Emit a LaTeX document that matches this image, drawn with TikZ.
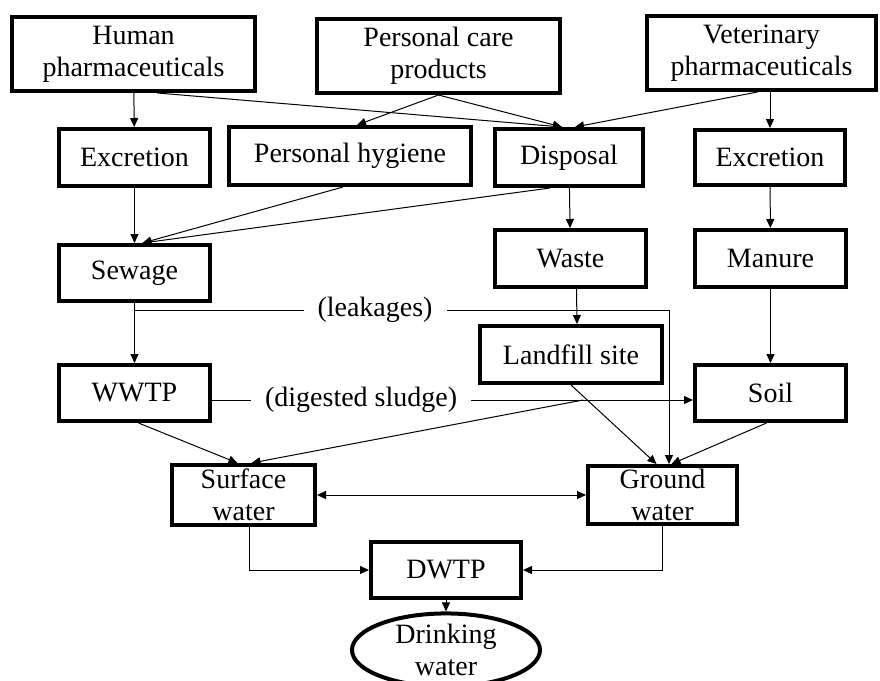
\documentclass[tikz,border=0pt]{standalone}
\usepackage{fontspec}
\setmainfont{Liberation Serif}
\usepackage{tikz}
\usetikzlibrary{arrows.meta,shapes.geometric}

\begin{document}
\begin{tikzpicture}[x=0.5pt, y=-0.5pt, >={Triangle[length=4.5pt,width=4pt]},
  box/.style={draw, line width=2pt, rectangle, align=center, inner sep=0pt,
    font=\fontsize{14}{16}\selectfont},
  lbl/.style={fill=white, inner xsep=7pt, inner ysep=1pt, font=\fontsize{14}{16}\selectfont},
  flow/.style={->, line width=0.5pt}]
  \useasboundingbox (0,0) rectangle (880,681);
  % sources
  \node[box, minimum width=121.5pt, minimum height=37pt] (human) at (133.5,54) {Human\\pharmaceuticals};
  \node[box, minimum width=121.5pt, minimum height=37pt] (care) at (438.5,56) {Personal care\\products};
  \node[box, minimum width=114.5pt, minimum height=37pt] (vet) at (761.5,53) {Veterinary\\pharmaceuticals};
  % second row
  \node[box, minimum width=75.5pt, minimum height=28.5pt] (exhum) at (134.5,157.5) {Excretion};
  \node[box, minimum width=121pt, minimum height=29pt] (hygiene) at (350,156) {Personal hygiene};
  \node[box, minimum width=74pt, minimum height=28.5pt] (disposal) at (569,157.5) {Disposal};
  \node[box, minimum width=75pt, minimum height=27.5pt] (exvet) at (770,157.5) {Excretion};
  % third row
  \node[box, minimum width=75.5pt, minimum height=28pt] (sewage) at (134.5,273) {Sewage};
  \node[box, minimum width=75.5pt, minimum height=28.5pt] (waste) at (570.5,258.5) {Waste};
  \node[box, minimum width=75.5pt, minimum height=28.5pt] (manure) at (770.5,258.5) {Manure};
  \node[box, minimum width=91pt, minimum height=28.5pt] (landfill) at (571,354.5) {Landfill site};
  \node[box, minimum width=75.5pt, minimum height=28pt] (wwtp) at (134.5,393) {WWTP};
  \node[box, minimum width=75.5pt, minimum height=28pt] (soil) at (770.5,393) {Soil};
  % water
  \node[box, minimum width=71.5pt, minimum height=30pt] (surface) at (243.5,495) {Surface\\water};
  \node[box, minimum width=74.5pt, minimum height=29pt] (ground) at (662.5,495) {Ground\\water};
  \node[box, minimum width=75pt, minimum height=28pt] (dwtp) at (446,570) {DWTP};
  \node[box, ellipse, minimum width=94pt, minimum height=30pt] (drink) at (446,650) {Drinking\\water};
  % helper points
  \coordinate (leak) at (134.5,310);
  \coordinate (leakbend) at (669,310);
  \coordinate (runoff) at (583,400);

  \draw[flow] (human) -- (exhum);
  \draw[flow] ([xshift=12pt]human.south) -- ([xshift=-3.5pt]disposal.north);
  \draw[flow] (care.south) -- ([xshift=3.5pt]hygiene.north);
  \draw[flow] (care.south) -- ([xshift=-3.5pt]disposal.north);
  \draw[flow] ([xshift=-2pt]vet.south) -- ([xshift=3pt]disposal.north);
  \draw[flow] (exvet.north |- vet.south) -- (exvet.north);
  \draw[flow] (exhum) -- (exhum.south |- sewage.north);
  \draw[flow] ([xshift=-3.5pt]hygiene.south) -- ([xshift=4pt]sewage.north);
  \draw[flow] ([xshift=-9.5pt]disposal.south) -- ([xshift=4pt]sewage.north);
  \draw[flow] (disposal) -- (waste);
  \draw[flow] (exvet) -- (manure);
  \draw[flow] ([xshift=3pt]waste.south) -- ([xshift=3pt]landfill.north);
  \draw[flow] (manure) -- (soil);
  \draw[flow] (sewage) -- (wwtp);
  \draw[flow] (leak) -- node[lbl, pos=0.45] {(leakages)} (leakbend) -- (leakbend |- ground.north);
  \draw[flow] ([yshift=-3.5pt]wwtp.east) -- node[lbl, pos=0.31] {(digested sludge)} ([yshift=-3.5pt]soil.west);
  \draw[flow] ([xshift=2pt]wwtp.south) -- ([xshift=-3pt]surface.north);
  \draw[flow] (runoff) -- ([xshift=4pt]surface.north);
  \draw[flow] (landfill.south) -- ([xshift=-3pt]ground.north);
  \draw[flow] ([xshift=-2pt]soil.south) -- ([xshift=4.5pt]ground.north);
  \draw[<->, line width=0.5pt] (surface.east) -- (ground.west);
  \draw[flow] ([xshift=3pt]surface.south) |- (dwtp.west);
  \draw[flow] (ground.south) |- (dwtp.east);
  \draw[flow] (dwtp) -- (drink);
\end{tikzpicture}
\end{document}
